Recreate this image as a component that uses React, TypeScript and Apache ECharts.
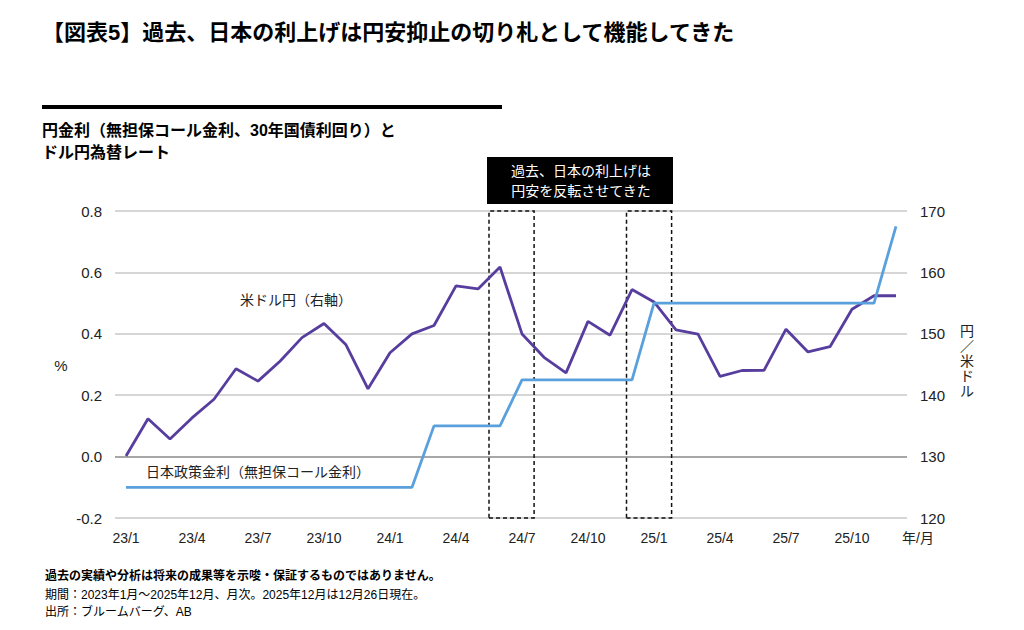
import React, { useEffect, useRef } from "react";
import * as echarts from "echarts";

const months = [
  "23/1", "23/2", "23/3", "23/4", "23/5", "23/6", "23/7", "23/8", "23/9", "23/10", "23/11", "23/12",
  "24/1", "24/2", "24/3", "24/4", "24/5", "24/6", "24/7", "24/8", "24/9", "24/10", "24/11", "24/12",
  "25/1", "25/2", "25/3", "25/4", "25/5", "25/6", "25/7", "25/8", "25/9", "25/10", "25/11", "25/12",
];

// USD/JPY month-end (right axis)
const usdJpy = [
  130.09, 136.17, 132.86, 136.3, 139.34, 144.31, 142.29, 145.54, 149.37, 151.68, 148.2, 141.04,
  146.92, 149.98, 151.35, 157.8, 157.31, 160.88, 149.98, 146.17, 143.63, 152.03, 149.77, 157.2,
  155.19, 150.63, 149.96, 143.07, 144.02, 144.03, 150.75, 147.05, 147.9, 154.0, 156.2, 156.2,
];

// Japan policy rate (uncollateralized call rate), %
const policyRate = [
  -0.1, -0.1, -0.1, -0.1, -0.1, -0.1, -0.1, -0.1, -0.1, -0.1, -0.1, -0.1,
  -0.1, -0.1, 0.1, 0.1, 0.1, 0.1, 0.25, 0.25, 0.25, 0.25, 0.25, 0.25,
  0.5, 0.5, 0.5, 0.5, 0.5, 0.5, 0.5, 0.5, 0.5, 0.5, 0.5, 0.75,
];

// highlighted periods (month index ranges)
const highlightBoxes = [
  [16.5, 18.55],
  [22.75, 24.8],
];

const leftMin = -0.2;
const leftMax = 0.8;
const leftStep = 0.2;
const rightMin = 120;
const rightMax = 170;
const rightStep = 10;

const FONT = "'Liberation Sans', 'Noto Sans CJK JP', Arial, sans-serif";

export default function App() {
  const ref = useRef<HTMLDivElement>(null);

  useEffect(() => {
    const chart = echarts.init(ref.current as HTMLDivElement, null, { renderer: "svg" });
    chart.setOption({
      animation: false,
      backgroundColor: "#ffffff",
      textStyle: { fontFamily: FONT },
      grid: { left: 115, right: 117, top: 211, bottom: 112, containLabel: false },
      xAxis: [
        {
          type: "category",
          data: months,
          boundaryGap: true,
          axisLine: { show: false },
          axisTick: { show: false },
          splitLine: { show: false },
          axisLabel: {
            interval: (i: number) => i % 3 === 0,
            fontSize: 14,
            color: "#222",
            margin: 13,
            fontFamily: FONT,
          },
        },
        {
          type: "value",
          min: -0.5,
          max: 35.5,
          show: false,
        },
      ],
      yAxis: [
        {
          type: "value",
          min: leftMin,
          max: leftMax,
          interval: leftStep,
          axisLine: { show: false },
          axisTick: { show: false },
          axisLabel: {
            formatter: (v: number) => v.toFixed(1),
            fontSize: 15,
            color: "#222",
            margin: 13,
            fontFamily: FONT,
          },
          splitLine: {
            show: true,
            lineStyle: {
              color: ["#c8c8c8", "#8a8a8a", "#c8c8c8", "#c8c8c8", "#c8c8c8", "#c8c8c8"],
              width: 1.5,
            },
          },
        },
        {
          type: "value",
          min: rightMin,
          max: rightMax,
          interval: rightStep,
          position: "right",
          axisLine: { show: false },
          axisTick: { show: false },
          splitLine: { show: false },
          axisLabel: {
            fontSize: 15,
            color: "#222",
            margin: 13,
            fontFamily: FONT,
          },
        },
      ],
      series: [
        {
          name: "米ドル円（右軸）",
          type: "line",
          xAxisIndex: 0,
          yAxisIndex: 1,
          data: usdJpy,
          symbol: "none",
          lineStyle: { color: "#573e9e", width: 2.8 },
          z: 3,
        },
        {
          name: "日本政策金利（無担保コール金利）",
          type: "line",
          xAxisIndex: 0,
          yAxisIndex: 0,
          data: policyRate,
          symbol: "none",
          lineStyle: { color: "#5aa0dc", width: 2.8 },
          z: 4,
        },
        {
          name: "boxes",
          type: "line",
          xAxisIndex: 1,
          yAxisIndex: 0,
          data: [],
          symbol: "none",
          markArea: {
            silent: true,
            itemStyle: {
              color: "rgba(0,0,0,0)",
              borderColor: "#111",
              borderWidth: 1.5,
              borderType: [4, 3],
            },
            data: highlightBoxes.map((b) => [
              { xAxis: b[0], yAxis: leftMin },
              { xAxis: b[1], yAxis: leftMax },
            ]),
          },
          z: 5,
        },
      ],
      graphic: [
        {
          type: "text",
          left: 42,
          top: 21,
          style: {
            text: "【図表5】過去、日本の利上げは円安抑止の切り札として機能してきた",
            fontSize: 22,
            fontWeight: "bold",
            fontFamily: FONT,
            fill: "#000",
          },
        },
        {
          type: "rect",
          shape: { x: 42, y: 105, width: 460, height: 4 },
          style: { fill: "#000" },
        },
        {
          type: "text",
          left: 42,
          top: 119,
          style: {
            text: "円金利（無担保コール金利、30年国債利回り）と\nドル円為替レート",
            fontSize: 16,
            lineHeight: 22,
            fontWeight: "bold",
            fontFamily: FONT,
            fill: "#000",
          },
        },
        {
          type: "rect",
          shape: { x: 487, y: 157, width: 186, height: 47 },
          style: { fill: "#000" },
        },
        {
          type: "text",
          x: 581,
          y: 181,
          style: {
            text: "過去、日本の利上げは\n円安を反転させてきた",
            fontSize: 14,
            lineHeight: 20,
            fontFamily: FONT,
            fill: "#fff",
            align: "center",
            verticalAlign: "middle",
          },
        },
        {
          type: "text",
          x: 296,
          y: 300,
          style: {
            text: "米ドル円（右軸）",
            fontSize: 14,
            fontFamily: FONT,
            fill: "#222",
            align: "center",
            verticalAlign: "middle",
          },
        },
        {
          type: "text",
          x: 258,
          y: 472,
          style: {
            text: "日本政策金利（無担保コール金利）",
            fontSize: 14,
            fontFamily: FONT,
            fill: "#222",
            align: "center",
            verticalAlign: "middle",
          },
        },
        {
          type: "text",
          x: 61,
          y: 365,
          style: {
            text: "%",
            fontSize: 15,
            fontFamily: FONT,
            fill: "#222",
            align: "center",
            verticalAlign: "middle",
          },
        },
        {
          type: "text",
          x: 967,
          y: 361,
          style: {
            text: "円\n／\n米\nド\nル",
            fontSize: 14,
            lineHeight: 15,
            fontFamily: FONT,
            fill: "#222",
            align: "center",
            verticalAlign: "middle",
          },
        },
        {
          type: "text",
          x: 918,
          y: 538,
          style: {
            text: "年/月",
            fontSize: 14,
            fontFamily: FONT,
            fill: "#222",
            align: "center",
            verticalAlign: "middle",
          },
        },
        {
          type: "text",
          left: 45,
          top: 570,
          style: {
            text: "過去の実績や分析は将来の成果等を示唆・保証するものではありません。",
            fontSize: 12,
            fontWeight: "bold",
            fontFamily: FONT,
            fill: "#000",
          },
        },
        {
          type: "text",
          left: 45,
          top: 587,
          style: {
            text: "期間：2023年1月～2025年12月、月次。2025年12月は12月26日現在。\n出所：ブルームバーグ、AB",
            fontSize: 12,
            lineHeight: 16.5,
            fontFamily: FONT,
            fill: "#000",
          },
        },
      ],
    });
    return () => chart.dispose();
  }, []);

  return (
    <div
      ref={ref}
      style={{ position: "absolute", left: 0, top: 0, width: 1024, height: 630, background: "#fff" }}
    />
  );
}
